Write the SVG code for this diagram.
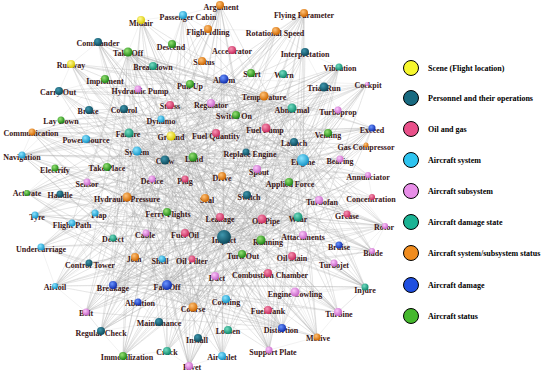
<svg xmlns="http://www.w3.org/2000/svg" width="550" height="373" viewBox="0 0 550 373">
<defs>
<radialGradient id="g-ye" cx="38%" cy="35%" r="65%"><stop offset="0" stop-color="#fffb9a"/><stop offset="1" stop-color="#d9c800"/></radialGradient>
<radialGradient id="g-pe" cx="38%" cy="35%" r="65%"><stop offset="0" stop-color="#3f97ae"/><stop offset="1" stop-color="#0e4a5c"/></radialGradient>
<radialGradient id="g-oi" cx="38%" cy="35%" r="65%"><stop offset="0" stop-color="#f794b4"/><stop offset="1" stop-color="#c92c5e"/></radialGradient>
<radialGradient id="g-lb" cx="38%" cy="35%" r="65%"><stop offset="0" stop-color="#8ce4ff"/><stop offset="1" stop-color="#1696c8"/></radialGradient>
<radialGradient id="g-ss" cx="38%" cy="35%" r="65%"><stop offset="0" stop-color="#fbc8fb"/><stop offset="1" stop-color="#c764c7"/></radialGradient>
<radialGradient id="g-ds" cx="38%" cy="35%" r="65%"><stop offset="0" stop-color="#74dcc2"/><stop offset="1" stop-color="#0f8a6e"/></radialGradient>
<radialGradient id="g-or" cx="38%" cy="35%" r="65%"><stop offset="0" stop-color="#ffc278"/><stop offset="1" stop-color="#d06800"/></radialGradient>
<radialGradient id="g-dm" cx="38%" cy="35%" r="65%"><stop offset="0" stop-color="#6a94ff"/><stop offset="1" stop-color="#102eae"/></radialGradient>
<radialGradient id="g-gr" cx="38%" cy="35%" r="65%"><stop offset="0" stop-color="#96e274"/><stop offset="1" stop-color="#1f8616"/></radialGradient>
</defs>
<style>
.edges path{fill:none;stroke:#a4a4a4;stroke-width:.35;stroke-opacity:.42;stroke-linejoin:round}
.node text{font-family:"Liberation Serif","Times New Roman",serif;font-weight:bold;font-size:8px;fill:#3a1516;text-anchor:middle}
.ye{fill:url(#g-ye)}.pe{fill:url(#g-pe)}.oi{fill:url(#g-oi)}.lb{fill:url(#g-lb)}.ss{fill:url(#g-ss)}
.ds{fill:url(#g-ds)}.or{fill:url(#g-or)}.dm{fill:url(#g-dm)}.gr{fill:url(#g-gr)}
.legend circle{stroke:#000;stroke-width:1}
.legend text{font-family:"Liberation Serif","Times New Roman",serif;font-weight:bold;font-size:8px;fill:#000}
</style>
<rect width="550" height="373" fill="#fff"/>
<g id="edges" class="edges">
<path d="M224 237L220 5 224 237 183 15 224 237 141 20 224 237 304 13 224 237 98 42 224 237 128 52 224 237 71 64 224 237 153 66 224 237 224 79 224 237 105 79 224 237 59 91 224 237 324 87 224 237 264 96 224 237 89 110 224 237 124 109 224 237 170 105 224 237 292 108 224 237 61 120 224 237 32 132 224 237 129 133 224 237 86 139 224 237 171 136 224 237 372 128 224 237 22 155 224 237 137 151 224 237 165 160 224 237 193 157 224 237 303 160 224 237 55 168 224 237 107 167 224 237 87 182 224 237 27 193 224 237 60 194 224 237 35 215 224 237 72 223 224 237 41 247 224 237 89 263 224 237 55 286 224 237 113 285 224 237 86 312 224 237 101 331 224 237 123 356 224 237 167 351 224 237 189 366 224 237 222 356 224 237 269 350 224 237 317 337 224 237 338 312 224 237 365 287 224 237 372 251 224 237 385 226 224 237 372 197 224 237 368 175 224 237 340 159 224 237 338 110 224 237 367 84 224 237 339 67 224 237 276 31"/>
<path d="M303 160L220 5 303 160 141 20 303 160 98 42 303 160 128 52 303 160 71 64 303 160 138 89 303 160 59 91 303 160 89 110 303 160 61 120 303 160 32 132 303 160 22 155 303 160 55 168 303 160 27 193 303 160 35 215 303 160 41 247 303 160 55 286 303 160 86 312 303 160 101 331 303 160 123 356 303 160 167 351 303 160 189 366 303 160 222 356 303 160 269 350 303 160 317 337 303 160 338 312 303 160 365 287 303 160 372 251 303 160 385 226 303 160 372 197 303 160 368 175 303 160 372 128 303 160 367 84 303 160 339 67 303 160 304 13 303 160 305 52 303 160 324 87 303 160 328 133 303 160 366 145 303 160 340 159 303 160 319 200 303 160 347 214 303 160 183 15 303 160 153 66"/>
<path d="M167 285L304 13 167 285 276 31 167 285 305 52 167 285 339 67 167 285 324 87 167 285 367 84 167 285 338 110 167 285 372 128 167 285 366 145 167 285 340 159 167 285 368 175 167 285 372 197 167 285 385 226 167 285 372 251 167 285 365 287 167 285 338 312 167 285 317 337 167 285 269 350 167 285 222 356 167 285 189 366 167 285 167 351 167 285 123 356 167 285 101 331 167 285 86 312 167 285 55 286 167 285 41 247 167 285 35 215 167 285 27 193 167 285 22 155 167 285 32 132 167 285 71 64 167 285 98 42 167 285 141 20 167 285 220 5 167 285 183 15 167 285 303 160 167 285 264 96"/>
<path d="M165 160L220 5 165 160 183 15 165 160 304 13 165 160 276 31 165 160 305 52 165 160 339 67 165 160 324 87 165 160 367 84 165 160 372 128 165 160 366 145 165 160 368 175 165 160 385 226 165 160 372 251 165 160 365 287 165 160 338 312 165 160 317 337 165 160 269 350 165 160 222 356 165 160 189 366 165 160 167 351 165 160 123 356 165 160 101 331 165 160 86 312 165 160 55 286 165 160 41 247 165 160 22 155 165 160 32 132 165 160 71 64 165 160 98 42 165 160 59 91"/>
<path d="M129 133L220 5 129 133 304 13 129 133 339 67 129 133 367 84 129 133 372 128 129 133 385 226 129 133 372 251 129 133 365 287 129 133 338 312 129 133 317 337 129 133 269 350 129 133 222 356 129 133 189 366 129 133 123 356 129 133 101 331 129 133 86 312 129 133 55 286 129 133 22 155 129 133 32 132 129 133 71 64 129 133 98 42 129 133 141 20 129 133 305 52 129 133 324 87"/>
<path d="M261 240L141 20 261 240 98 42 261 240 71 64 261 240 59 91 261 240 61 120 261 240 32 132 261 240 22 155 261 240 27 193 261 240 35 215 261 240 41 247 261 240 55 286 261 240 86 312 261 240 101 331 261 240 123 356 261 240 167 351 261 240 189 366 261 240 220 5 261 240 183 15 261 240 304 13 261 240 339 67 261 240 367 84 261 240 372 128 261 240 385 226 261 240 365 287 261 240 338 312 261 240 317 337"/>
<path d="M264 96L141 20 264 96 98 42 264 96 71 64 264 96 59 91 264 96 32 132 264 96 22 155 264 96 27 193 264 96 35 215 264 96 41 247 264 96 55 286 264 96 86 312 264 96 101 331 264 96 123 356 264 96 167 351 264 96 189 366 264 96 222 356 264 96 269 350 264 96 317 337 264 96 338 312 264 96 365 287 264 96 372 251 264 96 385 226 264 96 368 175 264 96 372 128 264 96 367 84"/>
<path d="M171 136L220 5 171 136 304 13 171 136 276 31 171 136 339 67 171 136 367 84 171 136 372 128 171 136 366 145 171 136 385 226 171 136 372 251 171 136 365 287 171 136 338 312 171 136 317 337 171 136 269 350 171 136 222 356 171 136 189 366 171 136 123 356 171 136 101 331 171 136 86 312 171 136 55 286 171 136 22 155 171 136 32 132 171 136 27 193 171 136 35 215"/>
<path d="M262 219L98 42 262 219 141 20 262 219 71 64 262 219 59 91 262 219 32 132 262 219 22 155 262 219 27 193 262 219 35 215 262 219 55 286 262 219 86 312 262 219 101 331 262 219 123 356 262 219 189 366 262 219 304 13 262 219 339 67 262 219 367 84 262 219 372 128 262 219 385 226 262 219 365 287 262 219 220 5"/>
<path d="M292 108L98 42 292 108 71 64 292 108 59 91 292 108 61 120 292 108 32 132 292 108 22 155 292 108 27 193 292 108 35 215 292 108 41 247 292 108 55 286 292 108 86 312 292 108 101 331 292 108 123 356 292 108 167 351 292 108 189 366 292 108 222 356 292 108 269 350 292 108 317 337 292 108 365 287 292 108 372 251 292 108 385 226"/>
<path d="M127 197L220 5 127 197 304 13 127 197 276 31 127 197 339 67 127 197 367 84 127 197 372 128 127 197 366 145 127 197 368 175 127 197 372 197 127 197 385 226 127 197 372 251 127 197 365 287 127 197 338 312 127 197 317 337 127 197 269 350 127 197 189 366 127 197 183 15 127 197 141 20 127 197 98 42"/>
<path d="M224 79L98 42 224 79 71 64 224 79 59 91 224 79 32 132 224 79 22 155 224 79 27 193 224 79 35 215 224 79 41 247 224 79 55 286 224 79 86 312 224 79 101 331 224 79 123 356 224 79 167 351 224 79 189 366 224 79 222 356 224 79 269 350 224 79 317 337 224 79 338 312 224 79 365 287 224 79 372 251 224 79 385 226 224 79 372 128 224 79 367 84"/>
<path d="M298 217L128 52 298 217 153 66 298 217 105 79 298 217 89 110 298 217 124 109 298 217 61 120 298 217 86 139 298 217 55 168 298 217 87 182 298 217 60 194 298 217 72 223 298 217 113 238 298 217 89 263 298 217 113 285 298 217 138 302 298 217 159 322 298 217 101 331 298 217 123 356 298 217 167 351 298 217 198 338 298 217 228 330 298 217 269 350 298 217 365 287 298 217 385 226 298 217 372 128 298 217 339 67 298 217 304 13 298 217 220 5"/>
<path d="M128 52L264 96 128 52 292 108 128 52 303 160 128 52 328 133 128 52 294 142 128 52 289 182 128 52 319 200 128 52 347 214 128 52 303 235 128 52 339 245 128 52 334 263 128 52 295 292 128 52 268 310 128 52 282 328 128 52 228 330 128 52 198 338 128 52 159 322 128 52 138 302 128 52 113 285 128 52 89 263 128 52 113 238 128 52 72 223 128 52 87 182 128 52 22 155"/>
<path d="M137 151L220 5 137 151 304 13 137 151 339 67 137 151 324 87 137 151 338 110 137 151 372 128 137 151 340 159 137 151 368 175 137 151 372 197 137 151 385 226 137 151 372 251 137 151 365 287 137 151 338 312 137 151 317 337 137 151 282 328 137 151 269 350 137 151 222 356 137 151 189 366 137 151 167 351 137 151 123 356 137 151 101 331 137 151 86 312 137 151 55 286"/>
<path d="M193 307L98 42 193 307 71 64 193 307 59 91 193 307 61 120 193 307 32 132 193 307 22 155 193 307 55 168 193 307 27 193 193 307 35 215 193 307 41 247 193 307 220 5 193 307 183 15 193 307 141 20 193 307 304 13 193 307 276 31 193 307 305 52 193 307 339 67 193 307 324 87 193 307 367 84 193 307 338 110 193 307 372 128 193 307 366 145 193 307 368 175 193 307 385 226 193 307 365 287"/>
<path d="M113 285L220 5 113 285 304 13 113 285 276 31 113 285 305 52 113 285 339 67 113 285 324 87 113 285 367 84 113 285 338 110 113 285 372 128 113 285 340 159 113 285 368 175 113 285 372 197 113 285 385 226 113 285 372 251 113 285 365 287 113 285 338 312 113 285 317 337 113 285 282 328"/>
<path d="M282 328L98 42 282 328 71 64 282 328 59 91 282 328 32 132 282 328 22 155 282 328 27 193 282 328 35 215 282 328 41 247 282 328 55 286 282 328 86 312 282 328 141 20 282 328 220 5 282 328 304 13 282 328 339 67 282 328 367 84 282 328 372 128 282 328 385 226"/>
<path d="M193 157L220 5 193 157 141 20 193 157 304 13 193 157 98 42 193 157 71 64 193 157 339 67 193 157 367 84 193 157 372 128 193 157 32 132 193 157 22 155 193 157 27 193 193 157 35 215 193 157 41 247 193 157 55 286 193 157 86 312 193 157 101 331 193 157 123 356 193 157 189 366 193 157 222 356 193 157 269 350 193 157 317 337 193 157 338 312 193 157 365 287 193 157 372 251 193 157 385 226"/>
<path d="M153 66L190 84L224 79L202 61L172 44L153 66L128 52L105 79L138 89L170 105L211 103L236 115L264 96L251 73L283 74L292 108L266 128L294 142L303 160L328 133L338 110L324 87L305 52L276 31L251 73L232 50L208 29L183 15L172 44L202 61L232 50L224 79L211 103L216 133L246 152L257 169L289 182L303 160L340 159L319 200L298 217L262 219L247 195L222 176L205 198L220 217L185 233L167 212L127 197L107 167L137 151L129 133L124 109L89 110L86 139L55 168L87 182L95 213L72 223L113 238L146 233L135 257L162 259L192 259L215 276L242 254L268 273L295 292L268 310L228 330L226 299L193 307L167 285L159 322L198 338L228 330L282 328L317 337L338 312L365 287L334 263L339 245L372 251L385 226L347 214L372 197L368 175L340 159L366 145L372 128L328 133"/>
<path d="M171 136L216 133L193 157L165 160L152 179L185 179L222 176L246 152L236 115L170 105L161 119L171 136L137 151L165 160L167 212L185 179L205 198L224 237L242 254L261 240L292 256L303 235L319 200L289 182L257 169L262 219L224 237L220 217L247 195L303 160L298 217L303 235L334 263L292 256L268 273L224 237L192 259L185 233L224 237L146 233L113 238L127 197L87 182L60 194L35 215L72 223L89 263L113 285L86 312L101 331L159 322L138 302L113 285L55 286L41 247L72 223"/>
<path d="M89 110L124 109L161 119L138 89L105 79L59 91L71 64L98 42L128 52L141 20L183 15L220 5L208 29L276 31L304 13L305 52L339 67L324 87L367 84M61 120L86 139L32 132L22 155L55 168L27 193L60 194L95 213L127 197L107 167L86 139L129 133M264 96L292 108L338 110L372 128L366 145L303 160L294 142L266 128L216 133L211 103L190 84L170 105L129 133L171 136M215 276L226 299L222 356L189 366L167 351L123 356L101 331L86 312L55 286L89 263L135 257L113 285L167 285L162 259L135 257L146 233M242 254L269 350L317 337L295 292L338 312L365 287L295 292L268 273L292 256L339 245L303 235L262 219L261 240L242 254"/>
</g>
<g id="n-argument" class="node"><text x="221" y="10">Argument</text><circle class="or" cx="220" cy="5" r="4"/></g>
<g id="n-passenger-cabin" class="node"><text x="188" y="20">Passenger Cabin</text><circle class="lb" cx="183" cy="15" r="4"/></g>
<g id="n-midair" class="node"><text x="141" y="26">Midair</text><circle class="ye" cx="141" cy="20" r="4"/></g>
<g id="n-flying-parameter" class="node"><text x="304" y="18">Flying Parameter</text><circle class="or" cx="304" cy="13" r="4"/></g>
<g id="n-flight-idling" class="node"><text x="208" y="35">Flight Idling</text><circle class="or" cx="208" cy="29" r="4"/></g>
<g id="n-rotational-speed" class="node"><text x="275" y="36">Rotational Speed</text><circle class="or" cx="276" cy="31" r="4"/></g>
<g id="n-commander" class="node"><text x="98" y="46">Commander</text><circle class="pe" cx="98" cy="42" r="4"/></g>
<g id="n-take-off" class="node"><text x="128" y="56">Take Off</text><circle class="gr" cx="128" cy="52" r="4.5"/></g>
<g id="n-descend" class="node"><text x="171" y="50">Descend</text><circle class="gr" cx="172" cy="44" r="4"/></g>
<g id="n-accelerator" class="node"><text x="232" y="54">Accelerator</text><circle class="oi" cx="232" cy="50" r="4"/></g>
<g id="n-interpretation" class="node"><text x="305" y="57">Interpretation</text><circle class="pe" cx="305" cy="52" r="4"/></g>
<g id="n-runway" class="node"><text x="71" y="68">Runway</text><circle class="ye" cx="71" cy="64" r="4"/></g>
<g id="n-breakdown" class="node"><text x="153" y="70">Breakdown</text><circle class="ds" cx="153" cy="66" r="4"/></g>
<g id="n-status" class="node"><text x="204" y="65">Status</text><circle class="or" cx="202" cy="61" r="4"/></g>
<g id="n-start" class="node"><text x="252" y="77">Start</text><circle class="gr" cx="251" cy="73" r="4"/></g>
<g id="n-warn" class="node"><text x="284" y="78">Warn</text><circle class="ds" cx="283" cy="74" r="4"/></g>
<g id="n-vibration" class="node"><text x="340" y="71">Vibration</text><circle class="ds" cx="339" cy="67" r="3.5"/></g>
<g id="n-alarm" class="node"><text x="224" y="83">Alarm</text><circle class="dm" cx="224" cy="79" r="4.5"/></g>
<g id="n-pull-up" class="node"><text x="190" y="89">Pull Up</text><circle class="gr" cx="190" cy="84" r="4"/></g>
<g id="n-implement" class="node"><text x="105" y="84">Implement</text><circle class="gr" cx="105" cy="79" r="4"/></g>
<g id="n-hydraulic-pump" class="node"><text x="140" y="94">Hydraulic Pump</text><circle class="ss" cx="138" cy="89" r="3.5"/></g>
<g id="n-carry-out" class="node"><text x="58" y="95">Carry Out</text><circle class="pe" cx="59" cy="91" r="4"/></g>
<g id="n-trial-run" class="node"><text x="324" y="91">Trial Run</text><circle class="pe" cx="324" cy="87" r="4.5"/></g>
<g id="n-cockpit" class="node"><text x="368" y="88">Cockpit</text><circle class="ss" cx="367" cy="84" r="2"/></g>
<g id="n-temperature" class="node"><text x="264" y="100">Temperature</text><circle class="or" cx="264" cy="96" r="4.5"/></g>
<g id="n-brake" class="node"><text x="88" y="114">Brake</text><circle class="pe" cx="89" cy="110" r="4"/></g>
<g id="n-control" class="node"><text x="124" y="113">Control</text><circle class="pe" cx="124" cy="109" r="4"/></g>
<g id="n-stress" class="node"><text x="170" y="109">Stress</text><circle class="oi" cx="170" cy="105" r="4"/></g>
<g id="n-regulator" class="node"><text x="211" y="108">Regulator</text><circle class="ss" cx="211" cy="103" r="4"/></g>
<g id="n-switch-on" class="node"><text x="234" y="119">Switch On</text><circle class="gr" cx="236" cy="115" r="4"/></g>
<g id="n-abnormal" class="node"><text x="292" y="113">Abnormal</text><circle class="ds" cx="292" cy="108" r="4.5"/></g>
<g id="n-turboprop" class="node"><text x="338" y="115">Turboprop</text><circle class="ss" cx="338" cy="110" r="3.5"/></g>
<g id="n-lay-down" class="node"><text x="61" y="124">Lay Down</text><circle class="gr" cx="61" cy="120" r="3.5"/></g>
<g id="n-dynamo" class="node"><text x="161" y="124">Dynamo</text><circle class="lb" cx="161" cy="119" r="3.5"/></g>
<g id="n-communication" class="node"><text x="31" y="136">Communication</text><circle class="or" cx="32" cy="132" r="3.5"/></g>
<g id="n-failure" class="node"><text x="128" y="137">Failure</text><circle class="ds" cx="129" cy="133" r="4.5"/></g>
<g id="n-fuel-pump" class="node"><text x="265" y="133">Fuel Pump</text><circle class="oi" cx="266" cy="128" r="4.5"/></g>
<g id="n-power-source" class="node"><text x="86" y="143">Power Source</text><circle class="lb" cx="86" cy="139" r="4"/></g>
<g id="n-ground" class="node"><text x="171" y="140">Ground</text><circle class="ye" cx="171" cy="136" r="4.5"/></g>
<g id="n-fuel-quantity" class="node"><text x="216" y="139">Fuel Quantity</text><circle class="oi" cx="216" cy="133" r="4"/></g>
<g id="n-venting" class="node"><text x="328" y="138">Venting</text><circle class="gr" cx="328" cy="133" r="4"/></g>
<g id="n-exceed" class="node"><text x="372" y="133">Exceed</text><circle class="dm" cx="372" cy="128" r="3.5"/></g>
<g id="n-launch" class="node"><text x="294" y="146">Launch</text><circle class="pe" cx="294" cy="142" r="4"/></g>
<g id="n-navigation" class="node"><text x="22" y="160">Navigation</text><circle class="lb" cx="22" cy="155" r="3.5"/></g>
<g id="n-system" class="node"><text x="137" y="155">System</text><circle class="lb" cx="137" cy="151" r="4.5"/></g>
<g id="n-crew" class="node"><text x="165" y="164">Crew</text><circle class="pe" cx="165" cy="160" r="4.5"/></g>
<g id="n-land" class="node"><text x="194" y="162">Land</text><circle class="gr" cx="193" cy="157" r="4.5"/></g>
<g id="n-replace-engine" class="node"><text x="250" y="157">Replace Engine</text><circle class="pe" cx="246" cy="152" r="3.5"/></g>
<g id="n-gas-compressor" class="node"><text x="366" y="150">Gas Compressor</text><circle class="or" cx="366" cy="145" r="2.5"/></g>
<g id="n-engine" class="node"><text x="303" y="165">Engine</text><circle class="lb" cx="303" cy="160" r="6"/></g>
<g id="n-bearing" class="node"><text x="340" y="164">Bearing</text><circle class="ss" cx="340" cy="159" r="3.5"/></g>
<g id="n-electrify" class="node"><text x="55" y="173">Electrify</text><circle class="gr" cx="55" cy="168" r="3.5"/></g>
<g id="n-take-place" class="node"><text x="107" y="171">Take Place</text><circle class="gr" cx="107" cy="167" r="4"/></g>
<g id="n-device" class="node"><text x="152" y="184">Device</text><circle class="ss" cx="152" cy="179" r="3.5"/></g>
<g id="n-plug" class="node"><text x="185" y="184">Plug</text><circle class="oi" cx="185" cy="179" r="3.5"/></g>
<g id="n-drive" class="node"><text x="222" y="181">Drive</text><circle class="or" cx="222" cy="176" r="4"/></g>
<g id="n-spout" class="node"><text x="259" y="175">Spout</text><circle class="ss" cx="257" cy="169" r="4"/></g>
<g id="n-annunciator" class="node"><text x="368" y="180">Annunciator</text><circle class="ss" cx="368" cy="175" r="3"/></g>
<g id="n-applied-force" class="node"><text x="290" y="187">Applied Force</text><circle class="gr" cx="289" cy="182" r="4"/></g>
<g id="n-sensor" class="node"><text x="87" y="187">Sensor</text><circle class="ss" cx="87" cy="182" r="3.5"/></g>
<g id="n-activate" class="node"><text x="27" y="196">Activate</text><circle class="gr" cx="27" cy="193" r="3"/></g>
<g id="n-handle" class="node"><text x="60" y="198">Handle</text><circle class="pe" cx="60" cy="194" r="3.5"/></g>
<g id="n-hydraulic-pressure" class="node"><text x="127" y="202">Hydraulic Pressure</text><circle class="or" cx="127" cy="197" r="4.5"/></g>
<g id="n-seal" class="node"><text x="207" y="203">Seal</text><circle class="or" cx="205" cy="198" r="4"/></g>
<g id="n-switch" class="node"><text x="249" y="200">Switch</text><circle class="pe" cx="247" cy="195" r="4"/></g>
<g id="n-turbofan" class="node"><text x="322" y="205">Turbofan</text><circle class="ss" cx="319" cy="200" r="4"/></g>
<g id="n-concentration" class="node"><text x="371" y="202">Concentration</text><circle class="oi" cx="372" cy="197" r="3"/></g>
<g id="n-tyre" class="node"><text x="37" y="220">Tyre</text><circle class="lb" cx="35" cy="215" r="3.5"/></g>
<g id="n-flap" class="node"><text x="99" y="218">Flap</text><circle class="lb" cx="95" cy="213" r="3.5"/></g>
<g id="n-flight-path" class="node"><text x="72" y="228">Flight Path</text><circle class="lb" cx="72" cy="223" r="3.5"/></g>
<g id="n-ferry-flights" class="node"><text x="168" y="217">Ferry Flights</text><circle class="gr" cx="167" cy="212" r="4"/></g>
<g id="n-leakage" class="node"><text x="220" y="222">Leakage</text><circle class="oi" cx="220" cy="217" r="4"/></g>
<g id="n-oil-pipe" class="node"><text x="266" y="224">Oil Pipe</text><circle class="oi" cx="262" cy="219" r="4.5"/></g>
<g id="n-wear" class="node"><text x="298" y="222">Wear</text><circle class="ds" cx="298" cy="217" r="4.5"/></g>
<g id="n-grease" class="node"><text x="347" y="219">Grease</text><circle class="oi" cx="347" cy="214" r="3.5"/></g>
<g id="n-rotor" class="node"><text x="384" y="230">Rotor</text><circle class="ss" cx="385" cy="226" r="3"/></g>
<g id="n-detect" class="node"><text x="113" y="242">Detect</text><circle class="ds" cx="113" cy="238" r="3.5"/></g>
<g id="n-cable" class="node"><text x="145" y="238">Cable</text><circle class="ss" cx="146" cy="233" r="3.5"/></g>
<g id="n-fuel-oil" class="node"><text x="185" y="238">Fuel Oil</text><circle class="oi" cx="185" cy="233" r="4"/></g>
<g id="n-impact" class="node"><text x="224" y="243">Impact</text><circle class="pe" cx="224" cy="237" r="7"/></g>
<g id="n-running" class="node"><text x="268" y="245">Running</text><circle class="gr" cx="261" cy="240" r="4.5"/></g>
<g id="n-attachments" class="node"><text x="303" y="240">Attachments</text><circle class="ss" cx="303" cy="235" r="4"/></g>
<g id="n-bruise" class="node"><text x="339" y="250">Bruise</text><circle class="dm" cx="339" cy="245" r="3.5"/></g>
<g id="n-blade" class="node"><text x="373" y="256">Blade</text><circle class="ss" cx="372" cy="251" r="3"/></g>
<g id="n-undercarriage" class="node"><text x="41" y="252">Undercarriage</text><circle class="lb" cx="41" cy="247" r="3.5"/></g>
<g id="n-join" class="node"><text x="134" y="262">Join</text><circle class="or" cx="135" cy="257" r="4"/></g>
<g id="n-shell" class="node"><text x="160" y="264">Shell</text><circle class="lb" cx="162" cy="259" r="3.5"/></g>
<g id="n-oil-filter" class="node"><text x="192" y="264">Oil Filter</text><circle class="oi" cx="192" cy="259" r="3.5"/></g>
<g id="n-turn-out" class="node"><text x="243" y="259">Turn Out</text><circle class="gr" cx="242" cy="254" r="4"/></g>
<g id="n-oil-stain" class="node"><text x="292" y="261">Oil Stain</text><circle class="oi" cx="292" cy="256" r="4"/></g>
<g id="n-turbojet" class="node"><text x="334" y="268">Turbojet</text><circle class="ss" cx="334" cy="263" r="3.5"/></g>
<g id="n-control-tower" class="node"><text x="90" y="268">Control Tower</text><circle class="pe" cx="89" cy="263" r="3.5"/></g>
<g id="n-duct" class="node"><text x="217" y="281">Duct</text><circle class="ss" cx="215" cy="276" r="4"/></g>
<g id="n-combustion-chamber" class="node"><text x="270" y="278">Combustion Chamber</text><circle class="oi" cx="268" cy="273" r="4"/></g>
<g id="n-airfoil" class="node"><text x="55" y="290">Airfoil</text><circle class="lb" cx="55" cy="286" r="3"/></g>
<g id="n-breakage" class="node"><text x="113" y="291">Breakage</text><circle class="dm" cx="113" cy="285" r="4"/></g>
<g id="n-ablation" class="node"><text x="140" y="306">Ablation</text><circle class="dm" cx="138" cy="302" r="3.5"/></g>
<g id="n-fall-off" class="node"><text x="167" y="290">Fall Off</text><circle class="dm" cx="167" cy="285" r="5"/></g>
<g id="n-engine-cowling" class="node"><text x="295" y="297">Engine Cowling</text><circle class="ss" cx="295" cy="292" r="4.5"/></g>
<g id="n-injure" class="node"><text x="365" y="293">Injure</text><circle class="ds" cx="365" cy="287" r="3.5"/></g>
<g id="n-bolt" class="node"><text x="86" y="316">Bolt</text><circle class="ss" cx="86" cy="312" r="3.5"/></g>
<g id="n-course" class="node"><text x="193" y="312">Course</text><circle class="or" cx="193" cy="307" r="4.5"/></g>
<g id="n-cowling" class="node"><text x="226" y="305">Cowling</text><circle class="lb" cx="226" cy="299" r="4"/></g>
<g id="n-fuel-tank" class="node"><text x="268" y="314">Fuel Tank</text><circle class="oi" cx="268" cy="310" r="4"/></g>
<g id="n-turbine" class="node"><text x="339" y="317">Turbine</text><circle class="ss" cx="338" cy="312" r="4"/></g>
<g id="n-maintenance" class="node"><text x="159" y="326">Maintenance</text><circle class="pe" cx="159" cy="322" r="4"/></g>
<g id="n-regular-check" class="node"><text x="101" y="336">Regular Check</text><circle class="pe" cx="101" cy="331" r="4"/></g>
<g id="n-loosen" class="node"><text x="228" y="334">Loosen</text><circle class="ds" cx="228" cy="330" r="4"/></g>
<g id="n-distortion" class="node"><text x="281" y="333">Distortion</text><circle class="dm" cx="282" cy="328" r="4"/></g>
<g id="n-motive" class="node"><text x="318" y="341">Motive</text><circle class="or" cx="317" cy="337" r="3.5"/></g>
<g id="n-install" class="node"><text x="197" y="343">Install</text><circle class="pe" cx="198" cy="338" r="4"/></g>
<g id="n-immobilization" class="node"><text x="127" y="360">Immobilization</text><circle class="gr" cx="123" cy="356" r="4"/></g>
<g id="n-crack" class="node"><text x="167" y="355">Crack</text><circle class="ds" cx="167" cy="351" r="4"/></g>
<g id="n-air-inlet" class="node"><text x="222" y="360">Air Inlet</text><circle class="lb" cx="222" cy="356" r="4"/></g>
<g id="n-support-plate" class="node"><text x="273" y="355">Support Plate</text><circle class="ss" cx="269" cy="350" r="3.5"/></g>
<g id="n-rivet" class="node"><text x="192" y="370">Rivet</text><circle class="ss" cx="189" cy="366" r="4"/></g>
<g id="legend" class="legend">
<circle cx="411" cy="68" r="7.5" fill="#f7f72e"/><text x="428" y="71">Scene (Flight location)</text>
<circle cx="411" cy="98" r="7.5" fill="#186a80"/><text x="428" y="101">Personnel and their operations</text>
<circle cx="411" cy="129" r="7.5" fill="#e9508a"/><text x="428" y="132">Oil and gas</text>
<circle cx="411" cy="160" r="7.5" fill="#2ec4f0"/><text x="428" y="163">Aircraft system</text>
<circle cx="411" cy="191" r="7.5" fill="#e88ee8"/><text x="428" y="194">Aircraft subsystem</text>
<circle cx="411" cy="222" r="7.5" fill="#1ab394"/><text x="428" y="225">Aircraft damage state</text>
<circle cx="411" cy="253" r="7.5" fill="#f08c1e"/><text x="428" y="256">Aircraft system/subsystem status</text>
<circle cx="411" cy="285" r="7.5" fill="#1f4fe0"/><text x="428" y="288">Aircraft damage</text>
<circle cx="411" cy="316" r="7.5" fill="#44b82c"/><text x="428" y="319">Aircraft status</text>
</g>
</svg>
